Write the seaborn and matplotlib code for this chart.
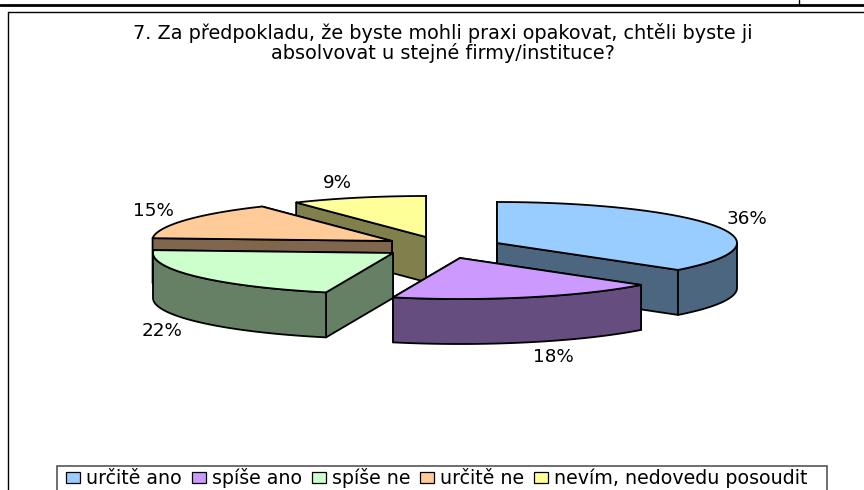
import numpy as np
import seaborn as sns
import matplotlib.pyplot as plt
from matplotlib.patches import Polygon, Patch, Rectangle

title = "7. Za předpokladu, že byste mohli praxi opakovat, chtěli byste ji\nabsolvovat u stejné firmy/instituce?"
categories = ["určitě ano", "spíše ano", "spíše ne", "určitě ne", "nevím, nedovedu posoudit"]
shares = [36.4, 18.1, 21.6, 14.8, 9.1]
colors = ["#99CCFF", "#CC99FF", "#CCFFCC", "#FFCC99", "#FFFF99"]

# pie layout in image pixels
centers = [(497, 243), (460, 258), (393, 253), (392, 241), (426, 237)]
label_pos = [(747, 219), (553, 357), (162, 331), (153, 211), (337, 183)]
rx, ry, depth = 240, 41, 45
draw_order = [4, 0, 3, 2, 1]

sns.set_theme(style="white")
plt.rcParams["font.family"] = ["DejaVu Sans"]

fig = plt.figure(figsize=(8.64, 4.9), dpi=100)
ax = fig.add_axes([0, 0, 1, 1])
ax.set_xlim(0, 864)
ax.set_ylim(490, 0)
ax.axis("off")


def rim(cx, cy, a0, a1):
    t = np.radians(np.linspace(a0, a1, 80))
    return np.column_stack([cx + rx * np.sin(t), cy - ry * np.cos(t)])


def face(pts, color):
    ax.add_patch(Polygon(pts, closed=True, fc=color, ec="black", lw=1.3, joinstyle="round"))


def darker(c):
    return tuple(v * 0.5 for v in sns.desaturate(c, 1))


edges = np.cumsum([0] + shares) / sum(shares) * 360

for i in draw_order:
    cx, cy = centers[i]
    a0, a1 = edges[i], edges[i + 1]
    dark = darker(colors[i])
    apex = np.array([cx, cy])
    down = np.array([0, depth])
    for ang in (a1, a0):
        p = rim(cx, cy, ang, ang)[0]
        face([apex, p, p + down, apex + down], dark)
    lo, hi = max(a0, 90), min(a1, 270)
    if lo < hi:
        arc = rim(cx, cy, lo, hi)
        face(np.vstack([arc, arc[::-1] + down]), dark)
    face(np.vstack([apex, rim(cx, cy, a0, a1)]), colors[i])

for v, (x, y) in zip(shares, label_pos):
    ax.text(x, y, f"{round(v)}%", ha="center", va="center", fontsize=13.2, color="black")

ax.text(443, 43, title, ha="center", va="center", fontsize=13.9, color="black", linespacing=1.03)

# page frame
ax.plot([0, 864], [5.5, 5.5], color="black", lw=2)
ax.plot([799, 799], [0, 5], color="black", lw=1)
ax.plot([8, 864], [12.5, 12.5], color="black", lw=1)
ax.plot([8, 8], [12.5, 490], color="black", lw=1)

# legend box runs off the bottom of the picture
ax.add_patch(Rectangle((57, 466), 770, 40, fc="white", ec="#555555", lw=1.2, clip_on=True))
handles = [Patch(fc=c, ec="black", lw=0.9) for c in colors]
leg = ax.legend(handles, categories, loc="upper left", bbox_to_anchor=(66 / 864, 1 - 468 / 490),
                ncol=5, frameon=False, fontsize=13.7, labelcolor="black", handlelength=0.75,
                handleheight=0.5, handletextpad=0.32, columnspacing=0.5, borderpad=0, borderaxespad=0)

fig.savefig("out.png", dpi=100)
